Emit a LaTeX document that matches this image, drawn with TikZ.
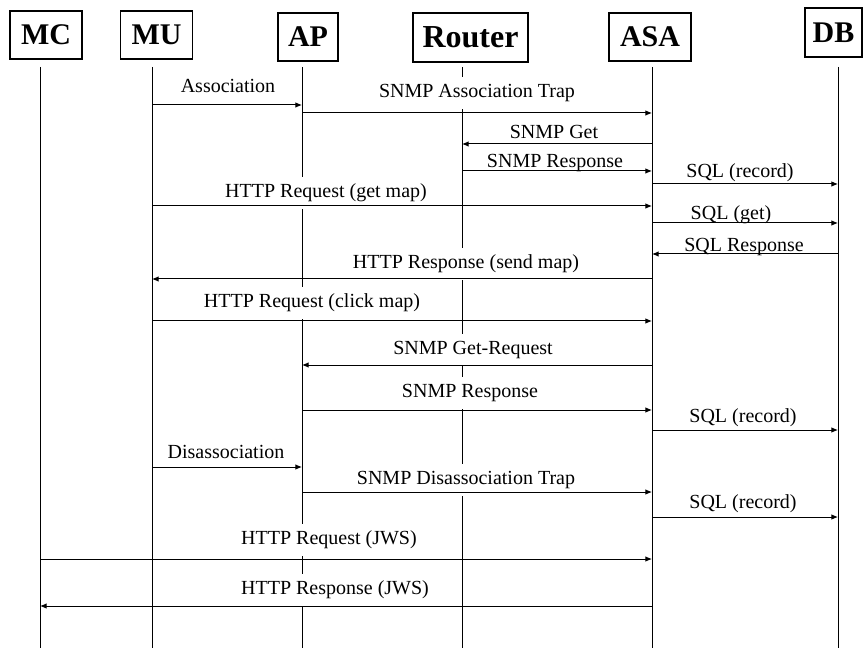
\documentclass[tikz,border=0pt]{standalone}
\usepackage{fontspec}
\setmainfont{Liberation Serif}
\usetikzlibrary{arrows.meta}
\begin{document}
\begin{tikzpicture}[x=0.75pt,y=-0.75pt,
  actor/.style={draw,line width=0.9pt,inner sep=0pt,
    font=\bfseries\fontsize{22.5}{24}\selectfont},
  life/.style={line width=0.75pt},
  msg/.style={line width=0.75pt,-{Latex[length=5pt,width=4.2pt]}},
  lbl/.style={fill=white,inner xsep=3pt,inner ysep=0pt,minimum height=24pt,
    text height=10.5pt,text depth=3.5pt,font=\fontsize{15}{18}\selectfont}]
\useasboundingbox (0,0) rectangle (863,648);

% participants
\node[actor,minimum width=54pt,minimum height=36pt] (hMC) at (46,35) {MC};
\node[actor,minimum width=54pt,minimum height=36pt] (hMU) at (156.5,35) {MU};
\node[actor,minimum width=45pt,minimum height=36pt] (hAP) at (308,37) {AP};
\node[actor,minimum width=86.25pt,minimum height=36.75pt,
      font=\bfseries\fontsize{24}{26}\selectfont] (hRT) at (470.5,37.5) {Router};
\node[actor,minimum width=61.5pt,minimum height=36pt] (hASA) at (650,37) {ASA};
\node[actor,minimum width=42.75pt,minimum height=36.75pt] (hDB) at (833.5,32.5) {DB};

% lifelines
\coordinate (MC) at (40,67);   \coordinate (MCb) at (40,648);
\coordinate (MU) at (152,67);  \coordinate (MUb) at (152,648);
\coordinate (AP) at (302,67);  \coordinate (APb) at (302,648);
\coordinate (RT) at (462,67);  \coordinate (RTb) at (462,648);
\coordinate (ASA) at (652,67); \coordinate (ASAb) at (652,648);
\coordinate (DB) at (838,67);  \coordinate (DBb) at (838,648);
\foreach \p in {MC,MU,AP,RT,ASA,DB} \draw[life] (\p) -- (\p b);

% message labels (white boxes interrupt the lifelines they cross)
\node[lbl] (m1)  at (228,88)  {Association};
\node[lbl] (m2)  at (477,93)  {SNMP Association Trap};
\node[lbl] (m3)  at (554,134) {SNMP Get};
\node[lbl] (m4)  at (555,163) {SNMP Response};
\node[lbl] (m5)  at (740,173) {SQL (record)};
\node[lbl] (m6)  at (326,193) {HTTP Request (get map)};
\node[lbl] (m7)  at (731,215) {SQL (get)};
\node[lbl] (m8)  at (744,247) {SQL Response};
\node[lbl] (m9)  at (466,264) {HTTP Response (send map)};
\node[lbl] (m10) at (312,303) {HTTP Request (click map)};
\node[lbl] (m11) at (473,350) {SNMP Get-Request};
\node[lbl] (m12) at (470,393) {SNMP Response};
\node[lbl] (m13) at (743,418) {SQL (record)};
\node[lbl] (m14) at (226,454) {Disassociation};
\node[lbl] (m15) at (466,480) {SNMP Disassociation Trap};
\node[lbl] (m16) at (743,504) {SQL (record)};
\node[lbl] (m17) at (329,540) {HTTP Request (JWS)};
\node[lbl] (m18) at (335,590) {HTTP Response (JWS)};

% messages
\draw[msg] (MU |- 0,105)  -- (AP |- 0,105);
\draw[msg] (AP |- 0,113)  -- (ASA |- 0,113);
\draw[msg] (ASA |- 0,144) -- (RT |- 0,144);
\draw[msg] (RT |- 0,171)  -- (ASA |- 0,171);
\draw[msg] (ASA |- 0,184) -- (DB |- 0,184);
\draw[msg] (MU |- 0,206)  -- (ASA |- 0,206);
\draw[msg] (ASA |- 0,223) -- (DB |- 0,223);
\draw[msg] (DB |- 0,254)  -- (ASA |- 0,254);
\draw[msg] (ASA |- 0,279) -- (MU |- 0,279);
\draw[msg] (MU |- 0,321)  -- (ASA |- 0,321);
\draw[msg] (ASA |- 0,365) -- (AP |- 0,365);
\draw[msg] (AP |- 0,410)  -- (ASA |- 0,410);
\draw[msg] (ASA |- 0,430) -- (DB |- 0,430);
\draw[msg] (MU |- 0,467)  -- (AP |- 0,467);
\draw[msg] (AP |- 0,492)  -- (ASA |- 0,492);
\draw[msg] (ASA |- 0,517) -- (DB |- 0,517);
\draw[msg] (MC |- 0,559)  -- (ASA |- 0,559);
\draw[msg] (ASA |- 0,606) -- (MC |- 0,606);
\end{tikzpicture}
\end{document}
